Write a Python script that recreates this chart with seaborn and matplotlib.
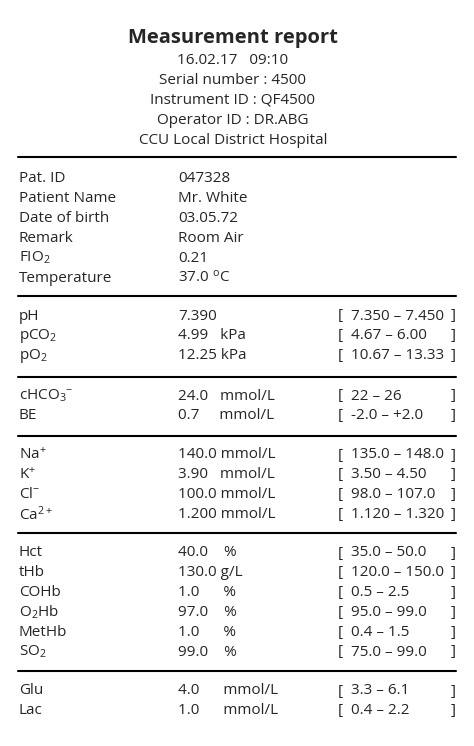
import matplotlib
matplotlib.use('Agg')
import matplotlib.pyplot as plt
import seaborn as sns

sns.set_theme(style='white')
plt.rcParams['font.family'] = ['Open Sans', 'DejaVu Sans']
plt.rcParams['mathtext.fontset'] = 'custom'
plt.rcParams['mathtext.rm'] = 'Open Sans'
plt.rcParams['mathtext.it'] = 'Open Sans'

title = 'Measurement report'
header = ['16.02.17   09:10', 'Serial number : 4500', 'Instrument ID : QF4500',
          'Operator ID : DR.ABG', 'CCU Local District Hospital']

patient_labels = ['Pat. ID', 'Patient Name', 'Date of birth', 'Remark', 'FIO$_2$', 'Temperature']
patient_values = ['047328', 'Mr. White', '03.05.72', 'Room Air', '0.21', '37.0 $^{\\mathrm{o}}$C']

# sections of measurements: (label, value with unit, range)
gas_labels = ['pH', 'pCO$_2$', 'pO$_2$']
gas_values = ['7.390', '4.99   kPa', '12.25 kPa']
gas_ranges = ['7.350 – 7.450', '4.67 – 6.00', '10.67 – 13.33']

acid_labels = ['cHCO$_3$$^{-}$', 'BE']
acid_values = ['24.0   mmol/L', '0.7     mmol/L']
acid_ranges = ['22 – 26', '-2.0 – +2.0']

ion_labels = ['Na$^{+}$', 'K$^{+}$', 'Cl$^{-}$', 'Ca$^{2+}$']
ion_values = ['140.0 mmol/L', '3.90   mmol/L', '100.0 mmol/L', '1.200 mmol/L']
ion_ranges = ['135.0 – 148.0', '3.50 – 4.50', '98.0 – 107.0', '1.120 – 1.320']

blood_labels = ['Hct', 'tHb', 'COHb', 'O$_2$Hb', 'MetHb', 'SO$_2$']
blood_values = ['40.0    %', '130.0 g/L', '1.0      %', '97.0    %', '1.0      %', '99.0    %']
blood_ranges = ['35.0 – 50.0', '120.0 – 150.0', '0.5 – 2.5', '95.0 – 99.0', '0.4 – 1.5', '75.0 – 99.0']

met_labels = ['Glu', 'Lac']
met_values = ['4.0      mmol/L', '1.0      mmol/L']
met_ranges = ['3.3 – 6.1', '0.4 – 2.2']

W, H = 474, 746
fig = plt.figure(figsize=(W / 100, H / 100), dpi=100)
ax = fig.add_axes([0, 0, 1, 1])
ax.set_xlim(0, W)
ax.set_ylim(H, 0)
ax.axis('off')

fs = 11
ax.text(233, 38, title, ha='center', va='center', fontsize=14.5, fontweight='bold')
for i, line in enumerate(header):
    ax.text(233, 60 + 20 * i, line, ha='center', va='center', fontsize=fs)


def sep(y):
    ax.plot([18, 456], [y, y], color='black', lw=1.5)


sep(157)
for i, (lab, val) in enumerate(zip(patient_labels, patient_values)):
    y = 179 + 19.8 * i
    ax.text(19, y, lab, va='center', fontsize=fs)
    ax.text(178, y, val, va='center', fontsize=fs)

sections = [(gas_labels, gas_values, gas_ranges, 316),
            (acid_labels, acid_values, acid_ranges, 396),
            (ion_labels, ion_values, ion_ranges, 455),
            (blood_labels, blood_values, blood_ranges, 553),
            (met_labels, met_values, met_ranges, 691)]
seps = [296, 377, 436, 533, 671]

for (labs, vals, rngs, y0), ys in zip(sections, seps):
    sep(ys)
    for i, (lab, val, rng) in enumerate(zip(labs, vals, rngs)):
        y = y0 + 19.8 * i
        ax.text(19, y, lab, va='center', fontsize=fs)
        ax.text(178, y, val, va='center', fontsize=fs)
        ax.text(338, y, '[', va='center', fontsize=fs)
        ax.text(351, y, rng, va='center', fontsize=fs)
        ax.text(451, y, ']', va='center', fontsize=fs)

fig.savefig('out.png', dpi=100)
